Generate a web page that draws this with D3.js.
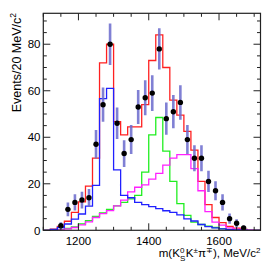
<!DOCTYPE html>
<html>
<head>
<meta charset="utf-8">
<script src="https://cdn.jsdelivr.net/npm/d3@7"></script>
<style>
  body { margin: 0; background: #fff; }
  svg { display: block; }
  text { font-family: "Liberation Sans", Arial, sans-serif; fill: #000; }
</style>
</head>
<body>
<svg width="274" height="274"></svg>
<script>
var svg = d3.select('svg');

// bin centres of the 20 MeV histograms
var binCentres = [1110, 1130, 1150, 1170, 1190, 1210, 1230, 1250, 1270, 1290,
                  1310, 1330, 1350, 1370, 1390, 1410, 1430, 1450, 1470, 1490,
                  1510, 1530, 1550, 1570, 1590, 1610, 1630, 1650, 1670, 1690, 1710];
var binWidth = 20;

// fit components
var totalFit = [0, 0.5, 1.7, 3.9, 7.7, 12.2, 19, 31, 72, 80,
                46.7, 41, 44.5, 44.5, 54, 73, 84, 70, 56, 49.5,
                42.5, 34.5, 21, 11, 5.5, 3.3, 1.7, 0.9, 0.4, 0.1, 0];
var blueFit = [0, 0.4, 1.2, 2.7, 4.8, 7, 10.4, 19.3, 56.6, 61,
               26, 15, 14, 12, 11, 10.2, 9.3, 8.4, 7.7, 6.6,
               4.9, 4, 2.5, 1.6, 1, 0.6, 0.3, 0.2, 0.1, 0, 0];
var greenFit = [0, 0.1, 0.3, 0.8, 1.5, 2.8, 4.2, 6, 7.5, 9,
                10.5, 12, 13.5, 15, 25, 41, 48.5, 34, 21, 11.5,
                6.4, 3.5, 2.5, 1.8, 1.2, 0.7, 0.4, 0.2, 0.1, 0, 0];
var magentaFit = [0, 0.1, 0.2, 0.6, 1.2, 2.3, 3.6, 5.5, 7.2, 8.5,
                  10.5, 13, 16.5, 18.5, 19.5, 22, 24.5, 28, 31, 32.5,
                  32.5, 26.5, 17, 8, 3.5, 2.2, 1, 0.5, 0.2, 0.1, 0];

// data points
var dataMass = [1150, 1170, 1190, 1210, 1230, 1250, 1270, 1290, 1310, 1330,
                1350, 1370, 1390, 1410, 1430, 1450, 1470, 1490, 1510, 1530,
                1550, 1570, 1590, 1610, 1630, 1650, 1670];
var dataCounts = [2, 9, 12, 13, 14, 37, 54, 80, 46, 33,
                  39, 53, 57, 59, 78, 48, 51, 55, 39, 31,
                  31, 21, 17, 12, 5, 3, 1];

var xTickLabels = [1200, 1400, 1600];
var yTickLabels = [0, 20, 40, 60, 80];

var fLeft = 43.3, fRight = 260.5, fTop = 13.3, fBottom = 230.3;

var x = d3.scaleLinear().domain([1100, 1718]).range([fLeft, fRight]);
var y = d3.scaleLinear().domain([0, 93.3]).range([fBottom, fTop]);

svg.append('clipPath').attr('id', 'frame')
  .append('rect').attr('x', fLeft).attr('y', fTop)
  .attr('width', fRight - fLeft).attr('height', fBottom - fTop);

function stepPoints(values) {
  var pts = [];
  binCentres.forEach(function(c, i) {
    pts.push([c - binWidth / 2, values[i]]);
    pts.push([c + binWidth / 2, values[i]]);
  });
  return pts;
}

var line = d3.line()
  .x(function(d) { return x(d[0]); })
  .y(function(d) { return y(d[1]); });

var plot = svg.append('g').attr('clip-path', 'url(#frame)');

var histos = [
  {v: totalFit, c: '#ff2020'},
  {v: greenFit, c: '#20ee20'},
  {v: magentaFit, c: '#ff20ff'},
  {v: blueFit, c: '#2020ff'}
];
histos.forEach(function(h) {
  plot.append('path')
    .attr('d', line(stepPoints(h.v)))
    .attr('fill', 'none')
    .attr('stroke', h.c)
    .attr('stroke-width', 1.3);
});

// error bars
plot.selectAll('line.err')
  .data(dataCounts)
  .enter()
  .append('line')
  .attr('class', 'err')
  .attr('x1', function(d, i) { return x(dataMass[i]); })
  .attr('x2', function(d, i) { return x(dataMass[i]); })
  .attr('y1', function(d) { return y(d - Math.sqrt(d)); })
  .attr('y2', function(d) { return y(d + Math.sqrt(d)); })
  .attr('stroke', '#6a6acc')
  .attr('stroke-opacity', 0.85)
  .attr('stroke-width', 2.6);

plot.selectAll('circle')
  .data(dataCounts)
  .enter()
  .append('circle')
  .attr('cx', function(d, i) { return x(dataMass[i]); })
  .attr('cy', function(d) { return y(d); })
  .attr('r', 2.7)
  .attr('fill', '#000');

// frame
svg.append('rect')
  .attr('x', fLeft).attr('y', fTop)
  .attr('width', fRight - fLeft).attr('height', fBottom - fTop)
  .attr('fill', 'none')
  .attr('stroke', '#222')
  .attr('stroke-width', 1.2);

// ticks
var ticks = svg.append('g').attr('stroke', '#222').attr('stroke-width', 1);
d3.range(1100, 1718, 50).forEach(function(m) {
  var len = (m % 200 === 0) ? 7 : 3.5;
  ticks.append('line').attr('x1', x(m)).attr('x2', x(m)).attr('y1', fBottom).attr('y2', fBottom - len);
  ticks.append('line').attr('x1', x(m)).attr('x2', x(m)).attr('y1', fTop).attr('y2', fTop + len);
});
d3.range(0, 93, 5).forEach(function(v) {
  var len = (v % 20 === 0) ? 7 : 3.5;
  ticks.append('line').attr('x1', fLeft).attr('x2', fLeft + len).attr('y1', y(v)).attr('y2', y(v));
  ticks.append('line').attr('x1', fRight).attr('x2', fRight - len).attr('y1', y(v)).attr('y2', y(v));
});

// tick labels
svg.selectAll('text.xl')
  .data(xTickLabels)
  .enter()
  .append('text')
  .attr('class', 'xl')
  .attr('x', function(d) { return x(d); })
  .attr('y', 244.5)
  .attr('text-anchor', 'middle')
  .style('font-size', '11.5px')
  .text(function(d) { return d; });

svg.selectAll('text.yl')
  .data(yTickLabels)
  .enter()
  .append('text')
  .attr('class', 'yl')
  .attr('x', 40.5)
  .attr('y', function(d) { return y(d) + 4.2; })
  .attr('text-anchor', 'end')
  .style('font-size', '11.5px')
  .text(function(d) { return d; });

// y title
var yt = svg.append('text')
  .attr('transform', 'translate(21,13) rotate(-90)')
  .attr('text-anchor', 'end')
  .style('font-size', '12.5px');
yt.append('tspan').text('Events/20 MeV/c');
yt.append('tspan').attr('dy', -5).style('font-size', '8.5px').text('2');

// x title, laid out piece by piece
var parts = [
  {t: 'm(K', size: 11.6, dy: 0},
  {t: '0', size: 8, dy: -4.5, stackNext: true},
  {t: 'S', size: 8, dy: 3.5},
  {t: 'K', size: 11.6, dy: 0},
  {t: '\u00b1', size: 8, dy: -4.5},
  {t: '\u03c0', size: 11.6, dy: 0},
  {t: '\u2213', size: 8, dy: -4.5},
  {t: '), MeV/c', size: 11.6, dy: 0},
  {t: '2', size: 8, dy: -4.5}
];
var xt = svg.append('g');
var cx = 0, stackStart = null, stackW = 0;
parts.forEach(function(p) {
  var el = xt.append('text')
    .attr('y', 257 + p.dy)
    .style('font-size', p.size + 'px')
    .text(p.t);
  var w = el.node().getComputedTextLength();
  if (p.stackNext) {
    el.attr('x', cx);
    stackStart = cx; stackW = w;
    return;
  }
  if (stackStart !== null) {
    el.attr('x', stackStart);
    cx = stackStart + Math.max(w, stackW) + 0.5;
    stackStart = null;
    return;
  }
  el.attr('x', cx);
  cx += w;
});
xt.attr('transform', 'translate(' + (260.5 - cx) + ',0)');
</script>
</body>
</html>
